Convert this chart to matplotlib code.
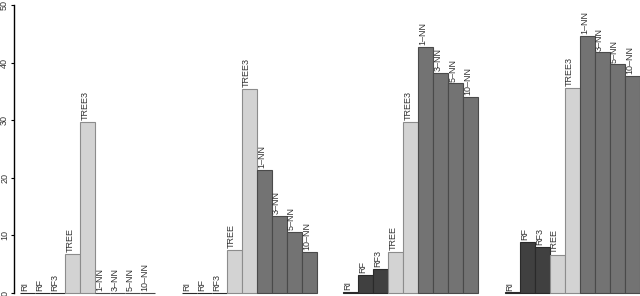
import matplotlib
matplotlib.use("Agg")
import matplotlib.pyplot as plt
import numpy as np

# methods in each group
methods = ['RI', 'RF', 'RF3', 'TREE', 'TREE3', '1–NN', '3–NN', '5–NN', '10–NN']

# values, one list per group
group1 = [0, 0, 0, 6.8, 29.7, 0, 0, 0, 0]
group2 = [0, 0, 0, 7.5, 35.4, 21.4, 13.4, 10.6, 7.1]
group3 = [0.2, 3.1, 4.2, 7.1, 29.7, 42.7, 38.2, 36.4, 34.0]
group4 = [0.1, 8.9, 8.0, 6.6, 35.6, 44.6, 41.8, 39.7, 37.7]
groups = [group1, group2, group3, group4]

face = ['#404040'] * 3 + ['#d3d3d3'] * 2 + ['#737373'] * 4
edge = ['#2a2a2a'] * 3 + ['#8c8c8c'] * 2 + ['#4a4a4a'] * 4

plt.rcParams['font.family'] = ['Liberation Sans', 'DejaVu Sans']

fig = plt.figure(figsize=(6.4, 2.96), dpi=100)
ax = fig.add_axes([0, 0, 1, 1])

period = 10.77
for g, vals in enumerate(groups):
    x0 = g * period
    xs = x0 + np.arange(len(methods))
    ax.bar(xs, vals, width=1.0, align='edge', color=face, edgecolor=edge,
           linewidth=0.8)
    for x, v, name in zip(xs, vals, methods):
        ax.text(x + 0.33, v + 0.3, name, rotation=90, ha='center', va='bottom',
                fontsize=6.5, color='#333333')

ax.set_xlim(-1.333, 41.33)
ax.set_ylim(-0.52, 50.87)

for s in ['top', 'right', 'bottom']:
    ax.spines[s].set_visible(False)
ax.spines['left'].set_position(('data', -0.4))
ax.spines['left'].set_bounds(0, 50)
ax.spines['left'].set_linewidth(1.0)
ax.set_xticks([])
ax.set_yticks([0, 10, 20, 30, 40, 50])
ax.tick_params(axis='y', length=2.5, width=0.8, pad=1, labelsize=6.5,
               labelrotation=90, labelcolor='#333333')
for lab in ax.get_yticklabels():
    lab.set_va('center')

fig.savefig('out.png', dpi=100)
